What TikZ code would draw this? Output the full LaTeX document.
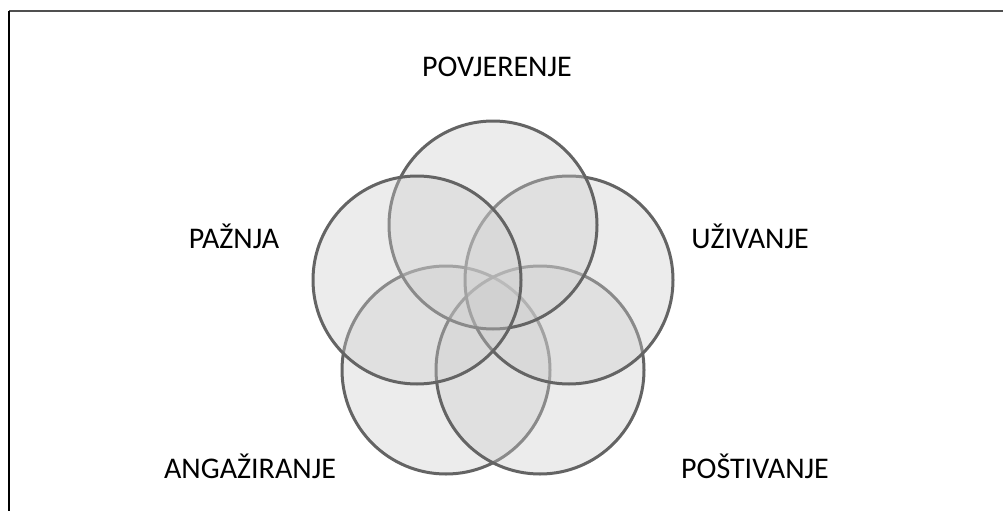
\documentclass[tikz,border=0pt]{standalone}
\usepackage{fontspec}
\setmainfont{Carlito}
\usepackage{tikz}
\usetikzlibrary{shapes}
\usepackage{xcolor}
\definecolor{vennfill}{HTML}{CCCCCC}
\definecolor{vennline}{HTML}{646464}
\definecolor{framegray}{HTML}{505050}

\begin{document}
\begin{tikzpicture}[x=1pt,y=-1pt,
  venn/.style={circle,draw=vennline,line width=3pt,fill=vennfill,
    fill opacity=0.37,minimum size=208pt,inner sep=0pt},
  label/.style={anchor=base,inner sep=0pt,font=\fontsize{30}{36}\selectfont}]
\useasboundingbox (0,0) rectangle (1003,511);
% frame
\coordinate (tl) at (9,11);
\coordinate (tr) at (1003,11);
\coordinate (bl) at (9,511);
\draw[framegray,line width=2.6pt] (tl) -- (tr);
\draw[black,line width=1.8pt] (tl) -- (bl);
% circles
\node[venn] (angaz) at (446,370) {};
\node[venn] (postiv) at (540,370) {};
\node[venn] (uziv) at (569,280) {};
\node[venn] (povj) at (493,225) {};
\node[venn] (paznja) at (417,280) {};
% labels
\node[label] (tpovj) at (497,77) {POVJERENJE};
\node[label] (tpaznja) at (234,248) {PAŽNJA};
\node[label] (tuziv) at (750,248) {UŽIVANJE};
\node[label] (tangaz) at (250,478) {ANGAŽIRANJE};
\node[label] (tpostiv) at (755,478) {POŠTIVANJE};
\end{tikzpicture}
\end{document}
